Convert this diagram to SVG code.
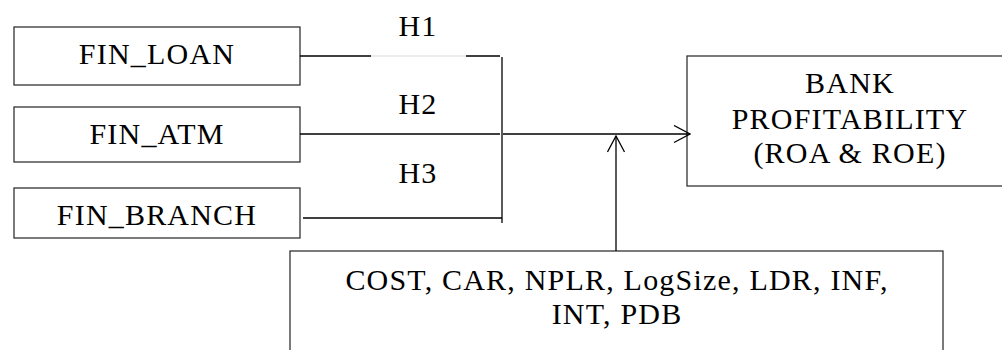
<svg xmlns="http://www.w3.org/2000/svg" width="1002" height="350" viewBox="0 0 1002 350">
<style>
.box{fill:#fff;stroke:#333;stroke-width:1.3}
.t{font-family:"Liberation Serif","Times New Roman",serif;font-size:30px;letter-spacing:1.2px;fill:#000;text-anchor:middle}
.ln{fill:none;stroke:#000;stroke-width:1.3}
</style>
<defs>
<marker id="arr" markerUnits="userSpaceOnUse" viewBox="0 0 18 20" refX="17" refY="9.5" markerWidth="18" markerHeight="20" orient="auto">
<path d="M1,1 L17,9.5 L1,18" fill="none" stroke="#000" stroke-width="1.3"/>
</marker>
</defs>
<rect width="1002" height="350" fill="#fff"/>
<g id="fin_loan">
<rect class="box" x="14" y="27" width="286" height="58"/>
<text class="t" x="157" y="64">FIN_LOAN</text>
</g>
<g id="fin_atm">
<rect class="box" x="14" y="107" width="286" height="55"/>
<text class="t" x="157" y="144">FIN_ATM</text>
</g>
<g id="fin_branch">
<rect class="box" x="14" y="188" width="286" height="50"/>
<text class="t" x="157" y="225">FIN_BRANCH</text>
</g>
<g id="bank_profitability">
<rect class="box" x="687" y="56" width="330" height="130"/>
<text class="t" x="850" y="93">BANK</text>
<text class="t" x="850" y="129">PROFITABILITY</text>
<text class="t" x="850" y="163">(ROA &amp; ROE)</text>
</g>
<g id="controls">
<rect class="box" x="290" y="251" width="653" height="120"/>
<text class="t" x="617" y="290" letter-spacing="0.9">COST, CAR, NPLR, LogSize, LDR, INF,</text>
<text class="t" x="617" y="324" letter-spacing="0.9">INT, PDB</text>
</g>
<g id="connectors">
<line class="ln" x1="300" y1="56" x2="371" y2="56"/>
<line x1="371" y1="56" x2="466" y2="56" stroke="#e6e6e6" stroke-width="1.3"/>
<line class="ln" x1="466" y1="56" x2="500" y2="56"/>
<line class="ln" x1="300" y1="134" x2="500" y2="134"/>
<line class="ln" x1="303" y1="218" x2="502" y2="218"/>
<line class="ln" x1="502" y1="57" x2="502" y2="223" stroke="#333"/>
<line class="ln" x1="503" y1="134" x2="690" y2="134" marker-end="url(#arr)"/>
<line class="ln" x1="616" y1="251" x2="616" y2="136" marker-end="url(#arr)"/>
<text class="t" x="418" y="36">H1</text>
<text class="t" x="418" y="114">H2</text>
<text class="t" x="418" y="183">H3</text>
</g>
</svg>
